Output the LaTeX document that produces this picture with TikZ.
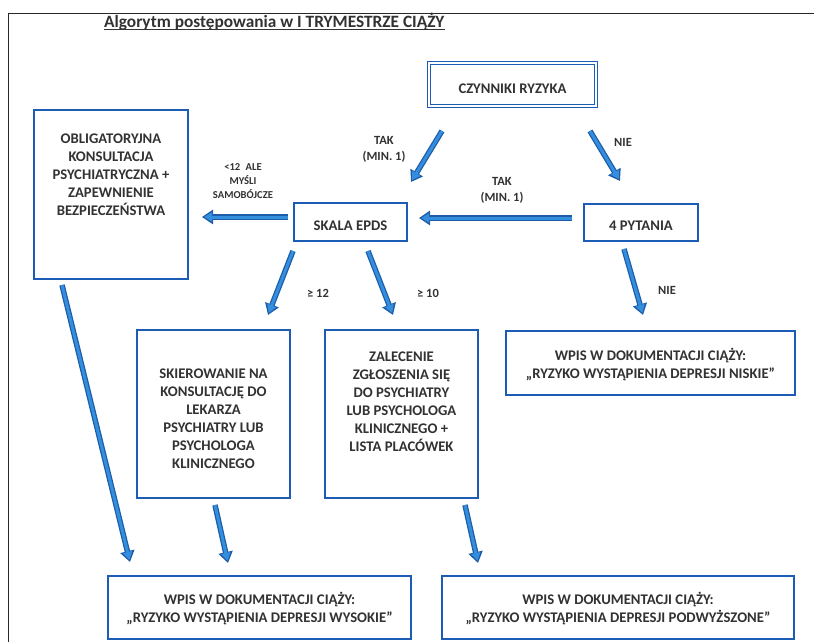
\documentclass[tikz,border=0pt]{standalone}
\usepackage{fontspec}
\setmainfont{Carlito}
\usetikzlibrary{arrows.meta}
\definecolor{bblue}{RGB}{28,92,180}
\definecolor{adark}{RGB}{30,92,168}
\definecolor{alight}{RGB}{52,142,222}
\definecolor{tgray}{RGB}{50,50,50}
\definecolor{fgray}{RGB}{40,40,40}
% #1 height, #2 width, #3 space above text, #4 space below text, #5 text
\newcommand\boxtxt[5]{\parbox[c][#1][c]{#2}{\vspace*{#3}\centering #5\par\vspace*{#4}}}
\tikzset{
  box/.style={draw=bblue, line width=1.7pt, fill=white, inner sep=0pt, text=tgray,
    font=\fontsize{14.7}{18}\selectfont\bfseries},
  dbox/.style={draw=bblue, double=white, double distance=1.8pt, line width=1.3pt,
    fill=white, inner sep=0pt, text=tgray, font=\fontsize{14.7}{18}\selectfont\bfseries},
  lbl/.style={text=tgray, font=\fontsize{12.5}{16}\selectfont\bfseries, align=center, inner sep=0pt},
  slbl/.style={text=tgray, font=\fontsize{10.6}{14}\selectfont\bfseries, align=center, inner sep=0pt},
  arr/.style={draw=adark, line width=5.5pt, -{Triangle[length=11pt,width=14pt]},
    postaction={draw=alight, line width=3pt, shorten >=2.2pt, -{Triangle[length=8pt,width=9pt]}}},
  frame/.style={draw=fgray, line width=1.4pt}
}
\begin{document}
\begin{tikzpicture}[x=1pt,y=-1pt]
\useasboundingbox (0,0) rectangle (814,642);
% frame
\coordinate (fTL) at (8.5,13.5);
\coordinate (fTR) at (814,13.5);
\coordinate (fBL) at (8.5,642);
\draw[frame] (fTR) -- (fTL) -- (fBL);
% title
\node[anchor=base west, inner sep=0pt, text=tgray, font=\fontsize{17.3}{20}\selectfont\bfseries]
  (title) at (104,27.5) {Algorytm postępowania w I TRYMESTRZE CIĄŻY};
\draw[tgray, line width=0.9pt] ([yshift=-1.8pt]title.base west) -- ([yshift=-1.8pt]title.base east);
% boxes
\node[dbox] (czyn) at (512.5,84.5) {\boxtxt{43pt}{167pt}{8pt}{0pt}{CZYNNIKI RYZYKA}};
\node[box] (oblig) at (111,194.5) {\boxtxt{169pt}{154pt}{0pt}{39pt}{OBLIGATORYJNA\\KONSULTACJA\\PSYCHIATRYCZNA +\\ZAPEWNIENIE\\BEZPIECZEŃSTWA}};
\node[box] (skala) at (350.5,222) {\boxtxt{38pt}{113pt}{7pt}{0pt}{SKALA EPDS}};
\node[box] (pyt) at (641,222.5) {\boxtxt{37pt}{114pt}{7pt}{0pt}{4 PYTANIA}};
\node[box] (skier) at (213.5,414) {\boxtxt{168pt}{153pt}{9pt}{0pt}{SKIEROWANIE NA\\KONSULTACJĘ DO\\LEKARZA\\PSYCHIATRY LUB\\PSYCHOLOGA\\KLINICZNEGO}};
\node[box] (zalec) at (401.5,414) {\boxtxt{168pt}{153pt}{0pt}{25pt}{ZALECENIE\\ZGŁOSZENIA SIĘ\\DO PSYCHIATRY\\LUB PSYCHOLOGA\\KLINICZNEGO +\\LISTA PLACÓWEK}};
\node[box] (niskie) at (650.5,363) {\boxtxt{64pt}{289pt}{4pt}{0pt}{WPIS W DOKUMENTACJI CIĄŻY:\\„RYZYKO WYSTĄPIENIA DEPRESJI NISKIE”}};
\node[box] (wysokie) at (259.5,607.5) {\boxtxt{63pt}{303pt}{3pt}{0pt}{WPIS W DOKUMENTACJI CIĄŻY:\\„RYZYKO WYSTĄPIENIA DEPRESJI WYSOKIE”}};
\node[box] (podw) at (618,607.5) {\boxtxt{63pt}{352pt}{3pt}{0pt}{WPIS W DOKUMENTACJI CIĄŻY:\\„RYZYKO WYSTĄPIENIA DEPRESJI PODWYŻSZONE”}};
% arrow end points
\coordinate (a1s) at (442,131); \coordinate (a1e) at (411,182);
\coordinate (a2s) at (590,131); \coordinate (a2e) at (620,181);
\coordinate (a3s) at (572,218); \coordinate (a3e) at (419,218);
\coordinate (a4s) at (288,217); \coordinate (a4e) at (202,217);
\coordinate (a5s) at (293,251); \coordinate (a5e) at (268,315);
\coordinate (a6s) at (368,251); \coordinate (a6e) at (393,315);
\coordinate (a7s) at (624,249); \coordinate (a7e) at (643,315);
\coordinate (a8s) at (62,285);  \coordinate (a8e) at (130,562);
\coordinate (a9s) at (215,505); \coordinate (a9e) at (228,563);
\coordinate (a10s) at (465,505); \coordinate (a10e) at (478,563);
\draw[arr] (a1s) -- (a1e);
\draw[arr] (a2s) -- (a2e);
\draw[arr] (a3s) -- (a3e);
\draw[arr] (a4s) -- (a4e);
\draw[arr] (a5s) -- (a5e);
\draw[arr] (a6s) -- (a6e);
\draw[arr] (a7s) -- (a7e);
\draw[arr] (a8s) -- (a8e);
\draw[arr] (a9s) -- (a9e);
\draw[arr] (a10s) -- (a10e);
% labels
\node[lbl] (ltak1) at (384,149) {TAK\\(MIN. 1)};
\node[lbl] (lnie1) at (623,142) {NIE};
\node[lbl] (ltak2) at (502,190) {TAK\\(MIN. 1)};
\node[slbl] (llt12) at (243,181) {<12\enspace ALE\\MYŚLI\\SAMOBÓJCZE};
\node[lbl] (lge12) at (318,293) {≥ 12};
\node[lbl] (lge10) at (428,293) {≥ 10};
\node[lbl] (lnie2) at (667,290) {NIE};
\end{tikzpicture}
\end{document}
